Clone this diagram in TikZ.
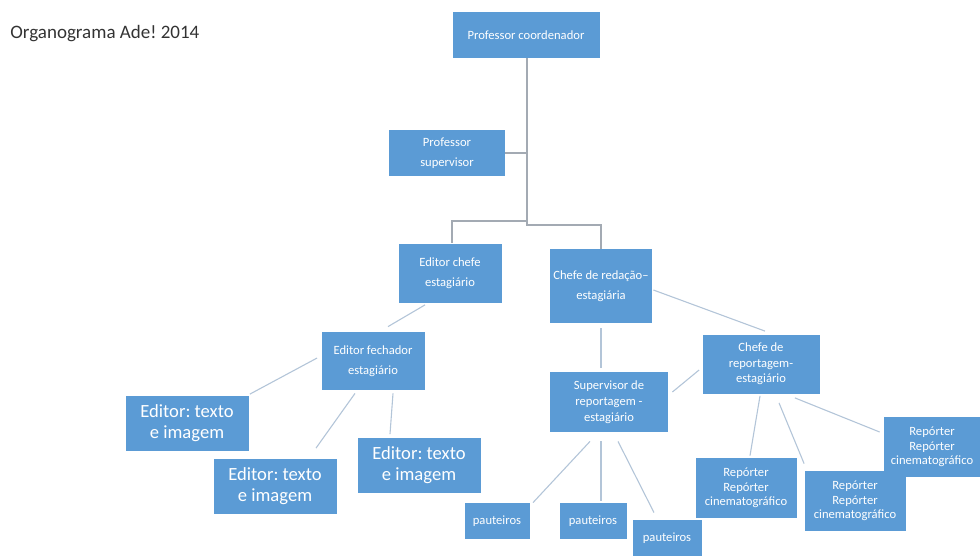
\documentclass[tikz,border=0pt]{standalone}
\usepackage{fontspec}
\setmainfont{Carlito}
\frenchspacing
\usetikzlibrary{calc}
\definecolor{boxblue}{HTML}{5B9BD5}
\definecolor{treegray}{HTML}{A3AAB3}
\definecolor{linkblue}{HTML}{B3C5D8}
\tikzset{
  box/.style={fill=boxblue, text=white, align=center, inner sep=1pt,
    font=\fontsize{6.3}{10}\selectfont},
  bigbox/.style={box, font=\fontsize{9.3}{10.5}\selectfont},
  tree/.style={treegray, line width=0.55pt},
  link/.style={linkblue, line width=0.55pt}
}
\begin{document}
\begin{tikzpicture}[x=0.5pt, y=-0.5pt]
		\useasboundingbox (0,0) rectangle (980,556);

		% Title
		\node[anchor=west, inner sep=0pt, text=black!80, font=\fontsize{9.5}{10}\selectfont] (title) at (10,34) {Organograma Ade! 2014};

		% Top of the chart
		\node[box, minimum width=73.5pt, minimum height=23pt] (coord) at (526,35) {Professor coordenador};
		\node[box, minimum width=58pt, minimum height=22.5pt] (supv) at (447,153) {Professor\\supervisor};
		\node[box, minimum width=51.5pt, minimum height=29.5pt] (edchefe) at (450,273) {Editor chefe\\estagiário};
		\node[box, minimum width=51pt, minimum height=37pt] (chefered) at (601,286) {Chefe de redação--\\estagiária};

		% Editors
		\node[box, minimum width=51.5pt, minimum height=29pt] (edfech) at (373,361) {Editor fechador\\estagiário};
		\foreach \n/\x/\y in {ed1/187/423, ed2/275/486, ed3/419/465} {
			\node[bigbox, minimum width=61.5pt, minimum height=27.5pt] (\n) at (\x,\y) {Editor: texto\\e imagem};
		}

		% Reporting
		\node[box, minimum width=59pt, minimum height=30pt, font=\fontsize{6.3}{8}\selectfont] (suprep) at (609,402) {Supervisor de\\reportagem -\\estagiário};
		\node[box, minimum width=58.5pt, minimum height=29.5pt, font=\fontsize{6.3}{7.8}\selectfont] (chefrep) at (761,364) {Chefe de\\reportagem-\\estagiário};
		\foreach \n/\x/\y/\w in {paut1/497/521/32.5, paut2/593/521/33.5, paut3/667/538/34.5} {
			\node[box, minimum width=\w pt, minimum height=18pt] (\n) at (\x,\y) {pauteiros};
		}
		\foreach \n/\x/\y/\w in {rep1/746/488/50.5, rep2/855/501/50.5, rep3/932/447/48} {
			\node[box, minimum width=\w pt, minimum height=30pt, font=\fontsize{6.3}{7.3}\selectfont] (\n) at (\x,\y) {Repórter\\Repórter\\cinematográfico};
		}

		% Tree lines at the top
		\coordinate (jn) at (527,221);
		\draw[tree] (coord.south -| jn) -- (jn) -| (edchefe.north -| 452,0);
		\draw[tree] (jn) -- ++(0,4) -| (chefered.north);
		\draw[tree] (supv.east) -- (supv.east -| jn);

		% Loose links
		\draw[link] ($(edchefe.south)+(-25,2)$) -- ($(edfech.north)+(15,-5)$);
		\draw[link] ($(edfech.west)+(-4,-3)$) -- ($(ed1.north east)+(1,-1)$);
		\draw[link] ($(edfech.south)+(-18,3)$) -- ($(ed2.north)+(41,-10)$);
		\draw[link] ($(edfech.south)+(20,3)$) -- ($(ed3.north)+(-29,-3)$);
		\draw[link] ($(chefered.south)+(0,5)$) -- ($(suprep.north)+(-8,-4)$);
		\draw[link] ($(chefered.east)+(1,4)$) -- ($(chefrep.north)+(4,-3)$);
		\draw[link] ($(suprep.east)+(4,-10)$) -- ($(chefrep.west)+(-3,6)$);
		\draw[link] ($(suprep.south)+(-19,9)$) -- ($(paut1.north)+(36,0)$);
		\draw[link] ($(suprep.south)+(-8,9)$) -- ($(paut2.north)+(8,-2)$);
		\draw[link] ($(suprep.south)+(9,9)$) -- ($(paut3.north)+(-13,-7)$);
		\draw[link] ($(chefrep.south)+(-1,2)$) -- ($(rep1.north)+(4,-2)$);
		\draw[link] ($(chefrep.south)+(18,9)$) -- ($(rep2.north west)+(0,-7)$);
		\draw[link] ($(chefrep.south east)+(-25,4)$) -- ($(rep3.west)+(-4,-15)$);
\end{tikzpicture}
\end{document}
